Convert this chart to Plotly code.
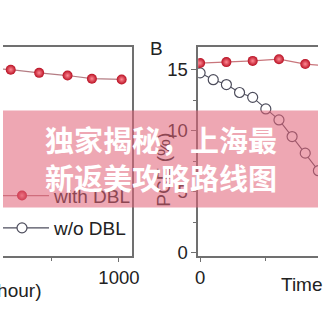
import plotly.graph_objects as go

# ---------------- data ----------------
# Panel A (left, cropped): PCE with DBL vs time
a_time = [495, 600, 705, 810, 900, 1010]
a_pce_with = [15.2, 15.02, 14.76, 14.54, 14.28, 14.22]

# Panel B (right): PCE with / without DBL vs time
b_time_with = [0, 40, 80, 120, 160, 200]
b_pce_with = [15.56, 15.64, 15.74, 15.88, 15.48, 15.3]
b_time_wo = [0, 20, 40, 60, 80, 100, 120, 140, 160, 180, 200]
b_pce_wo = [14.76, 14.2, 13.8, 13.15, 12.75, 11.8, 10.9, 9.54, 8.18, 6.74, 5.2]

a_xticks = [500, 1000]
b_xticks = [0, 200]
b_yticks = [0, 5, 10, 15]
legend_labels = ["with DBL", "w/o DBL"]
panel_label = "B"
x_title = "Time (hour)"
y_title = "PCE (%)"
banner_lines = ["独家揭秘，上海最", "新返美攻略路线图"]

# ---------------- styling ----------------
W = H = 326
FONT = "Liberation Sans, Arial, sans-serif"
CJK = "Noto Sans CJK SC, sans-serif"
AX = "#707070"
TXT = "#222222"
RED_EDGE = "#b80f22"
RED_CENTER = "#ff8a94"
RED_LINE_A = "#b57d84"
RED_LINE_B = "#c9767c"
OPEN_LINE = "#4d4d5c"
PINK = (224, 98, 120)
ALPHA = 0.56


def blend(rgb):
    r, g, b = rgb
    return "rgb(%d,%d,%d)" % (
        round(ALPHA * PINK[0] + (1 - ALPHA) * r),
        round(ALPHA * PINK[1] + (1 - ALPHA) * g),
        round(ALPHA * PINK[2] + (1 - ALPHA) * b),
    )


def px_x(p):
    return p / W


def px_y(p):
    return 1 - p / H


ydom = [px_y(262), px_y(48)]
yscale = 12.47
yrange = [-(262 - 258.5) / yscale, (258.5 - 48) / yscale]

# left x axis: 1000 at px 120, 0.28 px per unit, domain 0..133 px
ax_s = 0.28
a_range = [1000 - 120 / ax_s, 1000 + (133 - 120) / ax_s]
# right x axis: 0 at px 204, 0.68 px per unit, domain 202..326 px
bx_s = 0.68
b_range = [-(204 - 202) / bx_s, -(204 - 202) / bx_s + (326 - 202) / bx_s]

fig = go.Figure()

red_marker = dict(size=10, color=RED_EDGE,
                  gradient=dict(type="radial", color=RED_CENTER),
                  line=dict(width=0))

fig.add_trace(go.Scatter(x=a_time, y=a_pce_with, xaxis="x", yaxis="y",
                         mode="lines+markers", line=dict(color=RED_LINE_A, width=1.2),
                         marker=red_marker, showlegend=False))
fig.add_trace(go.Scatter(x=b_time_wo, y=b_pce_wo, xaxis="x2", yaxis="y2",
                         mode="lines+markers", line=dict(color=OPEN_LINE, width=1.1),
                         marker=dict(size=10, color="white",
                                     line=dict(color=OPEN_LINE, width=1.2)),
                         name=legend_labels[1], showlegend=True, legend="legend2"))
fig.add_trace(go.Scatter(x=b_time_with, y=b_pce_with, xaxis="x2", yaxis="y2",
                         mode="lines+markers", line=dict(color=RED_LINE_B, width=1.2),
                         marker=red_marker, showlegend=False))
# legend-only entry (sits under the translucent banner, so colours are blended)
fig.add_trace(go.Scatter(x=[None], y=[None], xaxis="x", yaxis="y",
                         mode="lines+markers",
                         line=dict(color=blend((185, 124, 130)), width=1.2),
                         marker=dict(size=10, color=blend((184, 15, 34)),
                                     gradient=dict(type="radial", color=blend((255, 138, 148))),
                                     line=dict(width=0)),
                         name=legend_labels[0], showlegend=True, legend="legend"))

common_axis = dict(showgrid=False, zeroline=False, linecolor=AX, linewidth=1.5,
                   tickcolor=AX, tickfont=dict(family=FONT, size=18.5, color=TXT))

legend_common = dict(x=0, xanchor="left", yanchor="middle",
                     bgcolor="rgba(0,0,0,0)", borderwidth=0,
                     itemwidth=54, indentation=-13)

fig.update_layout(
    width=W, height=H, autosize=False,
    margin=dict(l=0, r=0, t=0, b=0, pad=0),
    paper_bgcolor="white", plot_bgcolor="white",
    xaxis=dict(domain=[0, px_x(133)], range=a_range, anchor="y",
               showline=True, mirror=True, ticks="outside", ticklen=4,
               tickmode="array", tickvals=a_xticks, ticktext=[str(v) for v in a_xticks],
               minor=dict(dtick=250, tick0=0, ticks="outside", ticklen=3, tickcolor=AX),
               **common_axis),
    yaxis=dict(domain=ydom, range=yrange, anchor="x", side="right",
               showline=True, mirror=False, ticks="", showticklabels=False,
               **common_axis),
    xaxis2=dict(domain=[px_x(202), 1], range=b_range, anchor="y2",
                showline=True, mirror=True, ticks="outside", ticklen=4,
                tickmode="array", tickvals=b_xticks, ticktext=[str(v) for v in b_xticks],
                minor=dict(dtick=100, tick0=0, ticks="outside", ticklen=3, tickcolor=AX),
                **common_axis),
    yaxis2=dict(domain=ydom, range=yrange, anchor="x2",
                showline=True, mirror=False, ticks="outside", ticklen=5,
                tickmode="array", tickvals=b_yticks, ticktext=[str(v) for v in b_yticks],
                minor=dict(dtick=2.5, tick0=0, ticks="outside", ticklen=3, tickcolor=AX),
                **common_axis),
    legend=dict(y=px_y(200), font=dict(family=FONT, size=19, color=blend((34, 34, 34))),
                **legend_common),
    legend2=dict(y=px_y(233), font=dict(family=FONT, size=19, color=TXT),
                 **legend_common),
    shapes=[dict(type="rect", xref="paper", yref="paper", layer="above",
                 x0=0, x1=1, y0=px_y(212), y1=px_y(113),
                 fillcolor="rgba(%d,%d,%d,%.2f)" % (PINK + (ALPHA,)),
                 line=dict(width=0))],
    annotations=[
        dict(text=panel_label, x=px_x(159), y=px_y(50), xref="paper", yref="paper",
             showarrow=False, xanchor="center", yanchor="middle",
             font=dict(family=FONT, size=19, color=TXT)),
        dict(text=x_title, x=px_x(41), y=px_y(297), xref="paper", yref="paper",
             showarrow=False, xanchor="right", yanchor="middle",
             font=dict(family=FONT, size=19, color=TXT)),
        dict(text=x_title, x=px_x(286), y=px_y(291), xref="paper", yref="paper",
             showarrow=False, xanchor="left", yanchor="middle",
             font=dict(family=FONT, size=19, color=TXT)),
        dict(text=y_title, x=px_x(166), y=px_y(173), xref="paper", yref="paper",
             showarrow=False, xanchor="center", yanchor="middle", textangle=-90,
             font=dict(family=FONT, size=19, color=blend((34, 34, 34)))),
        dict(text="<b>%s</b>" % banner_lines[0], x=0.5, y=px_y(142), xref="paper", yref="paper",
             showarrow=False, xanchor="center", yanchor="middle",
             font=dict(family=CJK, size=29, color="white")),
        dict(text="<b>%s</b>" % banner_lines[1], x=0.5, y=px_y(181), xref="paper", yref="paper",
             showarrow=False, xanchor="center", yanchor="middle",
             font=dict(family=CJK, size=29, color="white")),
    ],
)

fig.write_html("out.html")
